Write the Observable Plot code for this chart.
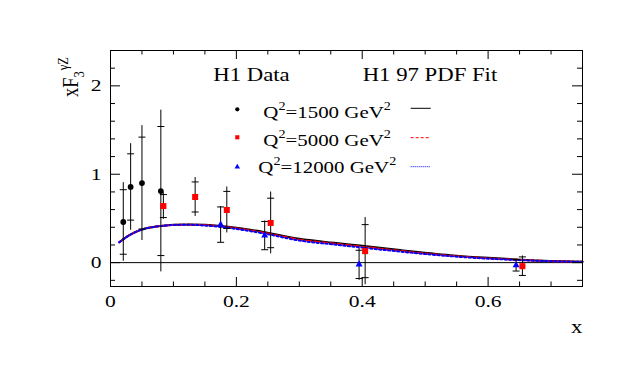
<!DOCTYPE html>
<html><head><meta charset="utf-8">
<script src="https://cdn.jsdelivr.net/npm/d3@7"></script>
<script src="https://cdn.jsdelivr.net/npm/@observablehq/plot@0.6"></script>
<style>body{margin:0;background:#fff;} svg{display:block}</style>
</head><body><div id="chart"></div>
<script>
// ---- data ----
const curveX    = [0.014,0.03,0.048,0.065,0.08,0.1,0.125,0.15,0.175,0.2,0.245,0.3,0.355,0.4,0.46,0.54,0.6,0.645,0.7,0.75];
const fitQ1500  = [0.23,0.31,0.37,0.40,0.415,0.428,0.432,0.428,0.415,0.395,0.345,0.27,0.225,0.19,0.142,0.085,0.054,0.036,0.019,0.01];
const fitQ5000  = [0.23,0.31,0.37,0.40,0.415,0.427,0.43,0.424,0.41,0.388,0.336,0.26,0.215,0.18,0.133,0.078,0.049,0.032,0.017,0.009];
const fitQ12000 = [0.23,0.31,0.37,0.40,0.414,0.426,0.428,0.42,0.404,0.381,0.328,0.25,0.205,0.17,0.125,0.073,0.045,0.03,0.016,0.009];

const xQ1500    = [0.0203,0.032,0.050,0.080];
const yQ1500    = [0.46,0.856,0.90,0.81];
const statQ1500 = [0.365,0.375,0.52,0.73];
const totQ1500  = [0.445,0.49,0.65,0.915];

const xQ5000    = [0.084,0.1345,0.1848,0.2545,0.4046,0.6545];
const yQ5000    = [0.64,0.743,0.596,0.449,0.13,-0.04];
const statQ5000 = [0.13,0.17,0.21,0.28,0.30,0.105];
const totQ5000  = [0.15,0.22,0.26,0.35,0.38,0.115];

const xQ12000    = [0.175,0.245,0.395,0.6445];
const yQ12000    = [0.43,0.306,-0.02,-0.03];
const statQ12000 = [0.2,0.16,0.16,0.065];
const totQ12000  = [0.205,0.165,0.18,0.07];

const xTickLabels = [0,0.2,0.4,0.6];
const yTickLabels = [0,1,2];
const xMinorTicks = [0.05,0.1,0.15,0.25,0.3,0.35,0.45,0.5,0.55,0.65,0.7];
const yMinorTicks = [-0.2,0.2,0.4,0.6,0.8,1.2,1.4,1.6,1.8,2.2];

// ---- tables ----
const fit = ys => curveX.map((x,i)=>({x, y: ys[i]}));
const pts = (xs, ys, st, tt) => xs.map((x,i)=>({x, y: ys[i], stat: st[i], tot: tt[i]}));
const p1500 = pts(xQ1500, yQ1500, statQ1500, totQ1500);
const p5000 = pts(xQ5000, yQ5000, statQ5000, totQ5000);
const p12000 = pts(xQ12000, yQ12000, statQ12000, totQ12000);
const allPts = [...p1500, ...p5000, ...p12000];

const W = 633, H = 381, mL = 110, mR = 51, mT = 50, mB = 95;
const pw = W - mL - mR, ph = H - mT - mB;
const FONT = "'Liberation Serif','Times New Roman',serif";
const SX = 1.23;
const hbar = {draw(ctx){ ctx.moveTo(-3.5,0); ctx.lineTo(3.5,0); }};

const svg = Plot.plot({
  width: W, height: H,
  marginLeft: mL, marginRight: mR, marginTop: mT, marginBottom: mB,
  style: {fontFamily: FONT, background: "white", color: "black"},
  x: {domain: [0, 0.75]},
  y: {domain: [-0.27, 2.4]},
  marks: [
    Plot.ruleY([0], {stroke: "black", strokeWidth: 1}),
    Plot.line(fit(fitQ1500), {x: "x", y: "y", stroke: "black", strokeWidth: 2, curve: "monotone-x"}),
    Plot.line(fit(fitQ5000), {x: "x", y: "y", stroke: "#ff0000", strokeWidth: 2, strokeDasharray: "5,3", curve: "monotone-x"}),
    Plot.line(fit(fitQ12000), {x: "x", y: "y", stroke: "#0000ff", strokeWidth: 2, strokeDasharray: "2,2.5", curve: "monotone-x"}),
    Plot.ruleX(allPts, {x: "x", y1: d => d.y - d.tot, y2: d => d.y + d.tot, stroke: "black", strokeWidth: 1}),
    Plot.dot(allPts, {x: "x", y: d => d.y + d.stat, symbol: hbar, stroke: "black", fill: "none", strokeWidth: 1}),
    Plot.dot(allPts, {x: "x", y: d => d.y - d.stat, symbol: hbar, stroke: "black", fill: "none", strokeWidth: 1}),
    Plot.dot(p1500, {x: "x", y: "y", r: 2.9, fill: "black", stroke: "none"}),
    Plot.dot(p5000, {x: "x", y: "y", r: 3.4, symbol: "square", fill: "#ff0000", stroke: "none"}),
    Plot.dot(p12000, {x: "x", y: "y", r: 2.6, symbol: "triangle", fill: "#0000ff", stroke: "none"}),
    Plot.frame({stroke: "black", strokeWidth: 1}),
    // inward ticks
    Plot.tickX(xTickLabels, {x: d => d, insetTop: ph - 9, stroke: "black"}),
    Plot.tickX(xTickLabels, {x: d => d, insetBottom: ph - 9, stroke: "black"}),
    Plot.tickX(xMinorTicks, {x: d => d, insetTop: ph - 4.5, stroke: "black"}),
    Plot.tickX(xMinorTicks, {x: d => d, insetBottom: ph - 4.5, stroke: "black"}),
    Plot.tickY(yTickLabels, {y: d => d, insetRight: pw - 10, stroke: "black"}),
    Plot.tickY(yTickLabels, {y: d => d, insetLeft: pw - 10, stroke: "black"}),
    Plot.tickY(yMinorTicks, {y: d => d, insetRight: pw - 5, stroke: "black"}),
    Plot.tickY(yMinorTicks, {y: d => d, insetLeft: pw - 5, stroke: "black"}),
    Plot.axisX({ticks: xTickLabels, tickSize: 0, tickPadding: 8, tickFormat: d => String(d), fontSize: 17.5, label: null}),
    Plot.axisY({ticks: yTickLabels, tickSize: 0, tickPadding: 9, tickFormat: d => String(d), fontSize: 17.5, label: null})
  ]
});
document.getElementById("chart").appendChild(svg);

// horizontally stretched glyphs like the reference
svg.querySelectorAll('[aria-label="x-axis tick label"] text, [aria-label="y-axis tick label"] text').forEach(t => {
  t.setAttribute("transform", (t.getAttribute("transform") || "") + ` scale(${SX},1)`);
  t.setAttribute("fill", "black");
});

const s = d3.select(svg);
function label(x, y, parts, anchor = "start", rot = "") {
  const t = s.append("text")
    .attr("transform", `translate(${x},${y}) scale(${SX},1)${rot}`)
    .attr("font-family", FONT).attr("text-anchor", anchor).attr("fill", "black");
  parts.forEach(p => {
    const ts = t.append("tspan").attr("font-size", p.size).text(p.text);
    if (p.dy) ts.attr("dy", p.dy);
    if (p.dx) ts.attr("dx", p.dx);
  });
  return t;
}
label(213.3, 80.7, [{text: "H1 Data", size: 18.5}]);
label(362.7, 80.7, [{text: "H1 97 PDF Fit", size: 18.5}]);

const legendRows = [
  {q: "1500", tx: 263.3, ty: 118, my: 109.3, ly: 108.3, color: "black", dash: null, sym: "circle"},
  {q: "5000", tx: 263.3, ty: 145.7, my: 137.3, ly: 137.7, color: "#ff0000", dash: "3,2", sym: "square"},
  {q: "12000", tx: 258.3, ty: 173.3, my: 167, ly: 166.7, color: "#0000ff", dash: "1,1", sym: "triangle"}
];
legendRows.forEach(r => {
  label(r.tx, r.ty, [
    {text: "Q", size: 17},
    {text: "2", size: 11.5, dy: -8},
    {text: `=${r.q} GeV`, size: 17, dy: 8},
    {text: "2", size: 11.5, dy: -8}
  ]);
  const sym = r.sym === "circle" ? d3.symbolCircle : r.sym === "square" ? d3.symbolSquare : d3.symbolTriangle;
  const size = r.sym === "circle" ? 14 : r.sym === "square" ? 17 : 13;
  s.append("path").attr("d", d3.symbol(sym, size)()).attr("transform", `translate(237.3,${r.my})`).attr("fill", r.color);
  const ln = s.append("line").attr("x1", 410.7).attr("x2", 430.7).attr("y1", r.ly).attr("y2", r.ly)
    .attr("stroke", r.color).attr("stroke-width", 1);
  if (r.dash) ln.attr("stroke-dasharray", r.dash);
});

// axis titles
label(576.7, 333, [{text: "x", size: 18.5}], "middle");
label(78, 97, [
  {text: "xF", size: 18.5},
  {text: "3", size: 12.5, dy: 5},
  {text: "γZ", size: 12.5, dy: -13, dx: 1}
], "start", " rotate(-90)");
</script>
</body></html>
